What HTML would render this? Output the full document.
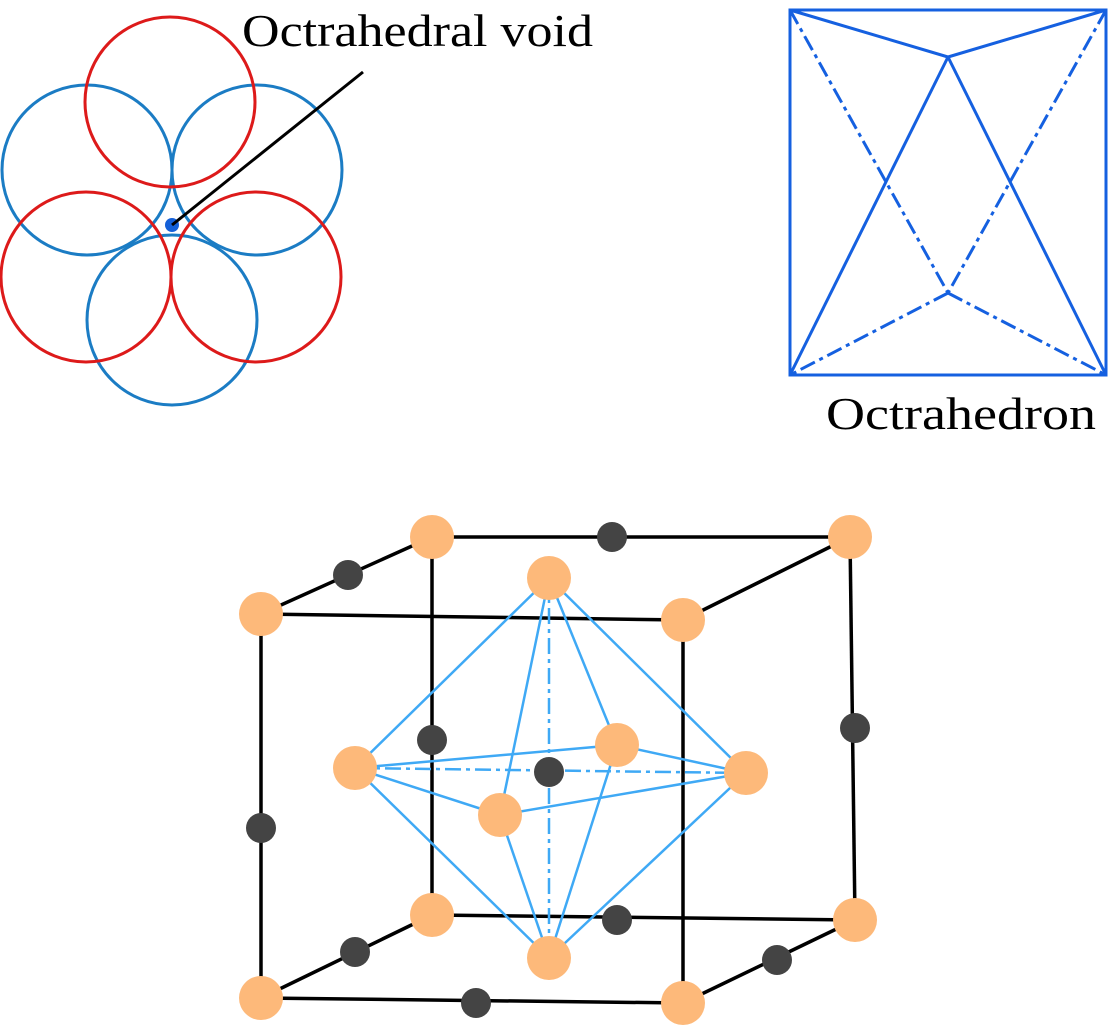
<!DOCTYPE html>
<html><head><meta charset="utf-8"><style>html,body{margin:0;padding:0;background:#fff}</style></head>
<body>
<svg width="1110" height="1027" viewBox="0 0 1110 1027" xmlns="http://www.w3.org/2000/svg">
<g fill="none" stroke-width="3">
<circle cx="87" cy="170" r="85" stroke="#1b7cc4"/>
<circle cx="257" cy="170" r="85" stroke="#1b7cc4"/>
<circle cx="172" cy="320" r="85" stroke="#1b7cc4"/>
<circle cx="170" cy="102" r="85" stroke="#dd1a1a"/>
<circle cx="86" cy="277" r="85" stroke="#dd1a1a"/>
<circle cx="256" cy="277" r="85" stroke="#dd1a1a"/>
</g>
<circle cx="172" cy="225" r="7" fill="#1560d8"/>
<line x1="172" y1="225" x2="363" y2="72" stroke="#000" stroke-width="3"/>
<text x="242" y="46" font-family="Liberation Serif, serif" font-size="46" textLength="351" lengthAdjust="spacingAndGlyphs">Octrahedral void</text>

<g stroke="#1560e0" stroke-width="3" fill="none">
<rect x="790" y="10" width="316" height="365"/>
<polyline points="790,10 948,57 1106,10"/>
<line x1="948" y1="57" x2="790" y2="375"/>
<line x1="948" y1="57" x2="1106" y2="375"/>
<g stroke-dasharray="16,5,4,5">
<line x1="790" y1="10" x2="948" y2="293"/>
<line x1="1106" y1="10" x2="948" y2="293"/>
<line x1="948" y1="293" x2="790" y2="375"/>
<line x1="948" y1="293" x2="1106" y2="375"/>
</g>
</g>
<text x="826" y="429" font-family="Liberation Serif, serif" font-size="46" textLength="270" lengthAdjust="spacingAndGlyphs">Octrahedron</text>

<g stroke="#000" stroke-width="3.5" fill="none">
<polygon points="261,614 683,620 683,1003 261,998"/>
<polyline points="261,614 432,537 850,537 683,620"/>
<line x1="850" y1="537" x2="855" y2="920"/>
<line x1="683" y1="1003" x2="855" y2="920"/>
<line x1="261" y1="998" x2="432" y2="915"/>
<line x1="432" y1="537" x2="432" y2="915"/>
<line x1="432" y1="915" x2="855" y2="920"/>
</g>
<g stroke="#3fa9f5" stroke-width="2.5" fill="none">
<line x1="549" y1="578" x2="355" y2="768"/>
<line x1="549" y1="578" x2="746" y2="773"/>
<line x1="549" y1="578" x2="500" y2="815"/>
<line x1="549" y1="578" x2="617" y2="745"/>
<line x1="549" y1="958" x2="355" y2="768"/>
<line x1="549" y1="958" x2="746" y2="773"/>
<line x1="549" y1="958" x2="500" y2="815"/>
<line x1="549" y1="958" x2="617" y2="745"/>
<line x1="355" y1="768" x2="500" y2="815"/>
<line x1="500" y1="815" x2="746" y2="773"/>
<line x1="355" y1="768" x2="617" y2="745"/>
<line x1="617" y1="745" x2="746" y2="773"/>
<g stroke-dasharray="16,5,4,5">
<line x1="355" y1="768" x2="746" y2="773"/>
<line x1="549" y1="578" x2="549" y2="958"/>
</g>
</g>
<g fill="#444">
<circle cx="348" cy="575" r="15"/><circle cx="612" cy="537" r="15"/>
<circle cx="261" cy="828" r="15"/><circle cx="432" cy="740" r="15"/>
<circle cx="855" cy="728" r="15"/><circle cx="549" cy="772" r="15"/>
<circle cx="617" cy="920" r="15"/><circle cx="355" cy="952" r="15"/>
<circle cx="777" cy="960" r="15"/><circle cx="476" cy="1003" r="15"/>
</g>
<g fill="#fdb97a">
<circle cx="261" cy="614" r="22"/><circle cx="432" cy="537" r="22"/>
<circle cx="850" cy="537" r="22"/><circle cx="683" cy="620" r="22"/>
<circle cx="261" cy="998" r="22"/><circle cx="683" cy="1003" r="22"/>
<circle cx="432" cy="915" r="22"/><circle cx="855" cy="920" r="22"/>
<circle cx="549" cy="578" r="22"/><circle cx="549" cy="958" r="22"/>
<circle cx="355" cy="768" r="22"/><circle cx="746" cy="773" r="22"/>
<circle cx="500" cy="815" r="22"/><circle cx="617" cy="745" r="22"/>
</g>
</svg>
</body></html>
